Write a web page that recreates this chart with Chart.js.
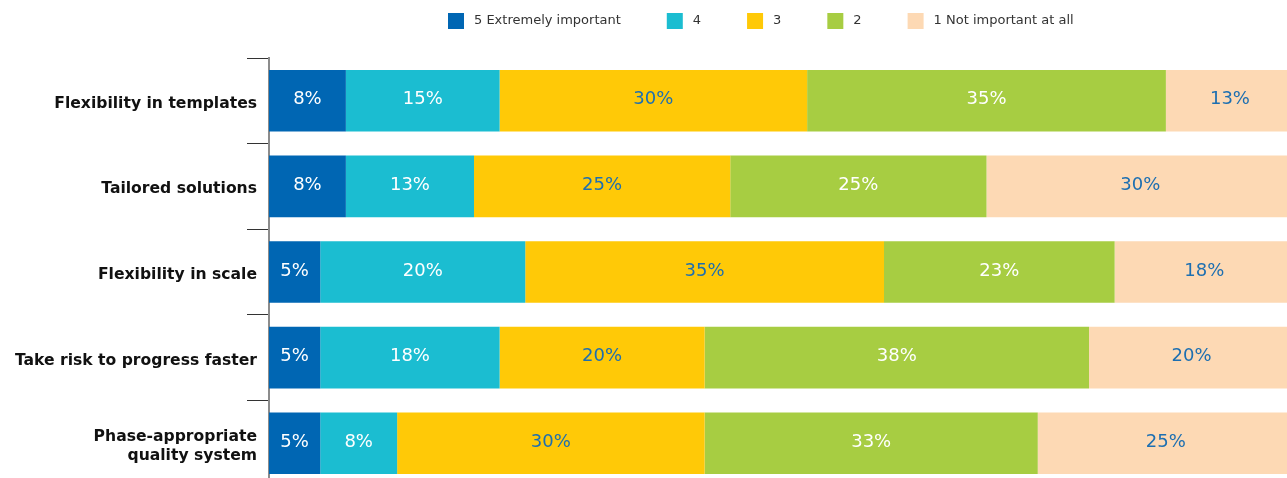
<!DOCTYPE html>
<html>
<head>
<meta charset="utf-8">
<title>Importance ratings</title>
<script src="https://cdn.jsdelivr.net/npm/chart.js@4/dist/chart.umd.min.js"></script>
<style>
  html, body { margin: 0; padding: 0; background: #fff; overflow: hidden; }
  #wrap { width: 1287px; height: 478px; overflow: hidden; }
</style>
</head>
<body>
<div id="wrap">
  <canvas id="ratingChart" width="1296" height="486"></canvas>
</div>
<script>
// categories + shares (%) per rating
const categories = [
    'Flexibility in templates',
    'Tailored solutions',
    'Flexibility in scale',
    'Take risk to progress faster',
    ['Phase-appropriate', 'quality system']
];
const seriesNames = ['5 Extremely important', '4', '3', '2', '1 Not important at all'];
const rating5 = [7.5, 7.5, 5, 5, 5];
const rating4 = [15, 12.5, 20, 17.5, 7.5];
const rating3 = [30, 25, 35, 20, 30];
const rating2 = [35, 25, 22.5, 37.5, 32.5];
const rating1 = [12.5, 30, 17.5, 20, 25];

const colors = ['#0066b3', '#1bbdd1', '#ffc907', '#a7cd42', '#fdd9b4'];
const labelColors = ['#ffffff', '#ffffff', '#1d6fb1', '#ffffff', '#1d6fb1'];
const FONT = '"DejaVu Sans", Verdana, sans-serif';

// value labels in the middle of each segment
const barLabels = {
    id: 'barLabels',
    afterDatasetsDraw(chart) {
        const ctx = chart.ctx;
        ctx.save();
        ctx.font = '18px ' + FONT;
        ctx.textAlign = 'center';
        ctx.textBaseline = 'middle';
        chart.data.datasets.forEach((ds, i) => {
            const meta = chart.getDatasetMeta(i);
            meta.data.forEach((bar, j) => {
                const v = ds.data[j];
                if (!v) return;
                ctx.fillStyle = labelColors[i];
                ctx.fillText(Math.round(v) + '%', (bar.x + bar.base) / 2, bar.y - 1);
            });
        });
        ctx.restore();
    }
};

// legend row at the top (off-centre like the original)
const topLegend = {
    id: 'topLegend',
    afterDraw(chart) {
        const ctx = chart.ctx;
        ctx.save();
        ctx.font = '13px ' + FONT;
        ctx.textBaseline = 'middle';
        let x = 448;
        const y = 13, box = 16;
        chart.data.datasets.forEach((ds) => {
            ctx.fillStyle = ds.backgroundColor;
            ctx.fillRect(x, y, box, box);
            ctx.fillStyle = '#333';
            ctx.fillText(ds.label, x + box + 10, y + box / 2);
            x += box + 10 + ctx.measureText(ds.label).width + 46;
        });
        ctx.restore();
    }
};

const datasets = [rating5, rating4, rating3, rating2, rating1].map((vals, i) => ({
    label: seriesNames[i],
    data: vals,
    backgroundColor: colors[i],
    borderWidth: 0,
    barPercentage: 0.72,
    categoryPercentage: 1
}));

new Chart(document.getElementById('ratingChart'), {
    type: 'bar',
    data: { labels: categories, datasets: datasets },
    options: {
        indexAxis: 'y',
        responsive: false,
        animation: false,
        layout: { padding: { top: 58, right: 2, bottom: 0, left: 0 } },
        plugins: {
            legend: { display: false },
            tooltip: { enabled: false }
        },
        scales: {
            x: {
                stacked: true,
                display: false,
                min: 0,
                max: 100
            },
            y: {
                stacked: true,
                afterFit(scale) { scale.width = 269; },
                border: { display: true, color: '#8c8c8c', width: 2 },
                grid: {
                    offset: true,
                    drawOnChartArea: false,
                    tickLength: 22,
                    color: '#333'
                },
                ticks: {
                    padding: -10,
                    labelOffset: 3,
                    color: '#111',
                    font: { family: FONT, size: 15.6, weight: 'bold', lineHeight: 1.2 }
                }
            }
        }
    },
    plugins: [barLabels, topLegend]
});
</script>
</body>
</html>
